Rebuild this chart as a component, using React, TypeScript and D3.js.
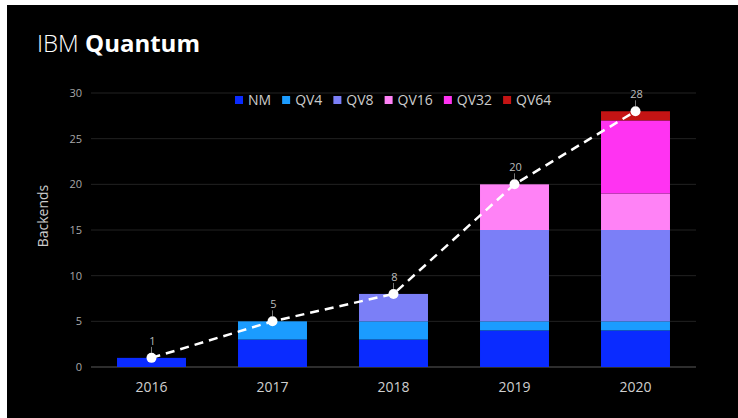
import React from "react";
import * as d3 from "d3";

const years = ["2016", "2017", "2018", "2019", "2020"];
const seriesNames = ["NM", "QV4", "QV8", "QV16", "QV32", "QV64"];
const NM = [1, 3, 3, 4, 4];
const QV4 = [0, 2, 2, 1, 1];
const QV8 = [0, 0, 3, 10, 10];
const QV16 = [0, 0, 0, 5, 4];
const QV32 = [0, 0, 0, 0, 8];
const QV64 = [0, 0, 0, 0, 1];
const totals = [1, 5, 8, 20, 28];
const yTicks = [0, 5, 10, 15, 20, 25, 30];
const colors = ["#0a2bff", "#1b9cff", "#7b7ff7", "#ff82f6", "#ff33f2", "#c41414"];

const W = 738;
const H = 418;
const FONT = "'Open Sans', 'Noto Sans', sans-serif";

function textWidth(t: string, size: number) {
  const c = document.createElement("canvas").getContext("2d");
  if (!c) return t.length * size * 0.6;
  c.font = `${size}px ${FONT}`;
  return c.measureText(t).width;
}

export default function App() {
  const seriesValues = [NM, QV4, QV8, QV16, QV32, QV64];
  const table = years.map((y, i) => {
    const row: any = { year: y };
    seriesNames.forEach((s, k) => (row[s] = seriesValues[k][i]));
    return row;
  });
  const stack = d3.stack().keys(seriesNames)(table);

  const x = d3.scaleBand().domain(years).range([91, 696]).paddingInner(0.43).paddingOuter(0.215);
  const y = d3.scaleLinear().domain([0, 30]).range([367, 93]);

  const line = d3
    .line<number>()
    .x((_, i) => (x(years[i]) as number) + x.bandwidth() / 2)
    .y((d) => y(d));

  // legend layout
  const legendSize = 14;
  let lx = 235;
  const legendItems = seriesNames.map((s, i) => {
    const item = { s, x: lx, color: colors[i] };
    lx += 8 + 5 + textWidth(s, legendSize) + 11;
    return item;
  });

  return (
    <svg width={W} height={H} style={{ position: "absolute", left: 0, top: 0, display: "block" }}>
      <rect x={0} y={0} width={W} height={H} fill="#ffffff" />
      <rect x={7} y={5} width={W - 7} height={H - 5} fill="#000000" />
      <text x={37} y={52} fill="#ffffff" fontFamily={FONT} fontSize={24}>
        <tspan fontWeight={300}>IBM </tspan>
        <tspan fontWeight={700}>Quantum</tspan>
      </text>

      {yTicks.map((t) => (
        <g key={t}>
          <line
            x1={91}
            x2={696}
            y1={y(t)}
            y2={y(t)}
            stroke={t === 0 ? "#5a5a5a" : "#222222"}
            strokeWidth={1}
          />
          <text
            x={82}
            y={y(t)}
            dy="0.35em"
            textAnchor="end"
            fill="#a8a8a8"
            fontFamily={FONT}
            fontSize={11}
          >
            {t}
          </text>
        </g>
      ))}

      <text
        transform={`translate(48,216) rotate(-90)`}
        textAnchor="middle"
        fill="#cccccc"
        fontFamily={FONT}
        fontSize={14}
      >
        Backends
      </text>

      {stack.map((layer, k) => (
        <g key={seriesNames[k]} fill={colors[k]}>
          {layer.map((d, i) =>
            d[1] - d[0] > 0 ? (
              <rect
                key={i}
                x={x(years[i])}
                width={x.bandwidth()}
                y={y(d[1])}
                height={y(d[0]) - y(d[1])}
              />
            ) : null
          )}
        </g>
      ))}

      {years.map((yr) => (
        <text
          key={yr}
          x={(x(yr) as number) + x.bandwidth() / 2}
          y={392}
          textAnchor="middle"
          fill="#cfcfcf"
          fontFamily={FONT}
          fontSize={14}
        >
          {yr}
        </text>
      ))}

      <path
        d={line(totals) || ""}
        fill="none"
        stroke="#ffffff"
        strokeWidth={2.5}
        strokeDasharray="9 6"
      />
      {totals.map((v, i) => {
        const cx = (x(years[i]) as number) + x.bandwidth() / 2;
        const cy = y(v);
        return (
          <g key={i}>
            <line x1={cx} x2={cx} y1={cy - 11} y2={cy - 5} stroke="#777" strokeWidth={1} />
            <circle cx={cx} cy={cy} r={5} fill="#ffffff" />
            <text
              x={cx + 1}
              y={cy - 13}
              textAnchor="middle"
              fill="#bdbdbd"
              fontFamily={FONT}
              fontSize={11}
            >
              {v}
            </text>
          </g>
        );
      })}

      {legendItems.map((it) => (
        <g key={it.s}>
          <rect x={it.x} y={96} width={8} height={8} fill={it.color} />
          <text
            x={it.x + 13}
            y={100}
            dy="0.35em"
            fill="#cccccc"
            fontFamily={FONT}
            fontSize={legendSize}
          >
            {it.s}
          </text>
        </g>
      ))}
    </svg>
  );
}
